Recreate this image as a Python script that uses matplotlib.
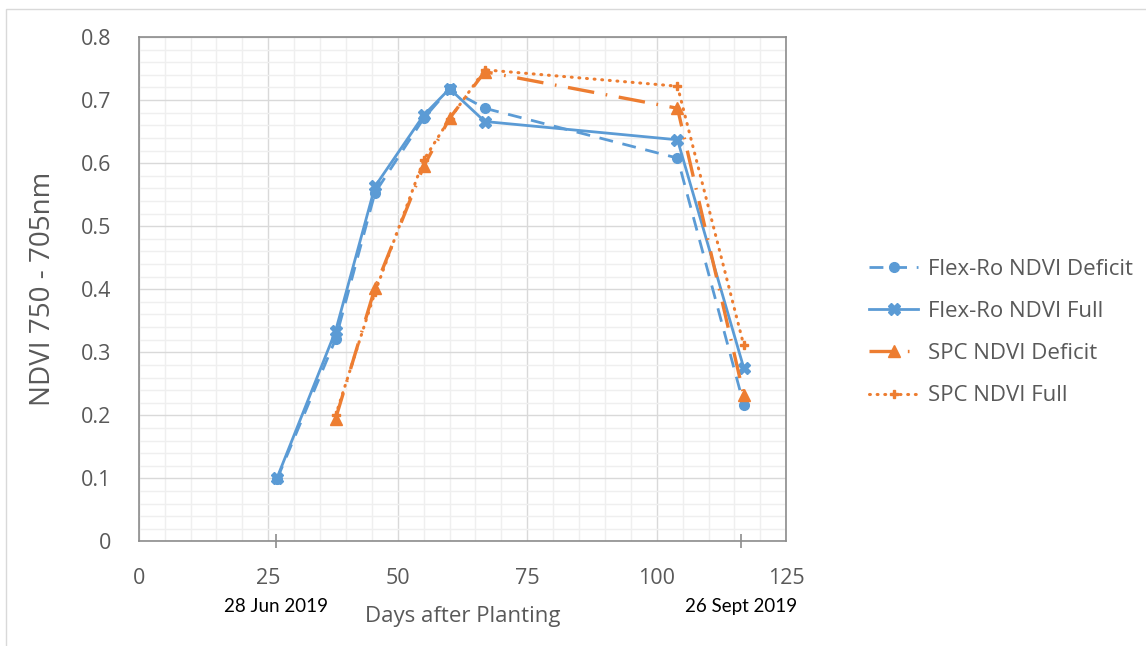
import matplotlib.pyplot as plt
from matplotlib.patches import Rectangle
from matplotlib.ticker import MultipleLocator

# days after planting for each sampling date
days = [26.7, 38, 45.6, 55, 60, 66.8, 104, 116.8]
spc_days = [38, 45.6, 55, 60, 66.8, 104, 116.8]

flex_deficit = [0.099, 0.321, 0.553, 0.671, 0.718, 0.687, 0.608, 0.217]
flex_full = [0.101, 0.334, 0.563, 0.676, 0.718, 0.666, 0.637, 0.275]
spc_deficit = [0.195, 0.402, 0.595, 0.671, 0.745, 0.687, 0.232]
spc_full = [0.200, 0.395, 0.605, 0.670, 0.748, 0.722, 0.311]

date_ticks = [26.5, 116.2]
date_labels = ['28 Jun 2019', '26 Sept 2019']

blue = '#5B9BD5'
orange = '#ED7D31'
grey_text = '#595959'

plt.rcParams['font.family'] = ['Open Sans', 'DejaVu Sans']

fig = plt.figure(figsize=(11.46, 6.46), dpi=100)
fig.patches.append(Rectangle((6 / 1146, -0.05), 1.1, 1 - 9 / 646 + 0.05,
                             transform=fig.transFigure, fill=False,
                             edgecolor='#d9d9d9', lw=1.0))

ax = fig.add_axes([0.1211, 0.1618, 0.565, 0.7809])

ax.plot(days, flex_deficit, color=blue, lw=2.0, ls=(0, (5, 3.5)),
        marker='o', ms=7, label='Flex-Ro NDVI Deficit')
ax.plot(days, flex_full, color=blue, lw=2.0, ls='-',
        marker='X', ms=8, label='Flex-Ro NDVI Full')
ax.plot(spc_days, spc_deficit, color=orange, lw=2.4, ls=(0, (8, 3.5, 0.5, 3.5)),
        marker='^', ms=9, label='SPC NDVI Deficit')
ax.plot(spc_days, spc_full, color=orange, lw=2.2, ls=(0, (0.3, 2.2)),
        dash_capstyle='round', marker='P', ms=6, label='SPC NDVI Full')

ax.set_xlim(0, 125)
ax.set_ylim(0, 0.8)
ax.xaxis.set_major_locator(MultipleLocator(25))
ax.xaxis.set_minor_locator(MultipleLocator(5))
ax.yaxis.set_minor_locator(MultipleLocator(0.02))
ax.set_yticks([i / 10 for i in range(9)])
ax.set_yticklabels(['0'] + [f'{i / 10:.1f}' for i in range(1, 9)])

ax.grid(which='major', color='#d9d9d9', lw=1.0)
ax.grid(which='minor', color='#efefef', lw=1.0)
ax.set_axisbelow(True)
for s in ax.spines.values():
    s.set_color('#8c8c8c')
    s.set_linewidth(1.2)

ax.tick_params(which='both', length=0, labelsize=15.5, labelcolor=grey_text)
ax.tick_params(axis='x', pad=19)
ax.tick_params(axis='y', pad=20)

# small ticks marking the first and last survey dates
sec = ax.secondary_xaxis('bottom')
sec.set_xticks(date_ticks)
sec.set_xticklabels(date_labels, fontsize=13.5, family=['Lato', 'DejaVu Sans'],
                    color='black')
sec.tick_params(length=10, width=1.2, color='#8c8c8c', direction='inout', pad=36)
sec.spines['bottom'].set_visible(False)

ax.set_xlabel('Days after Planting', fontsize=16, color=grey_text, labelpad=12)
ax.set_ylabel('NDVI 750 - 705nm', fontsize=20, color=grey_text, labelpad=17)

leg = ax.legend(loc='center left', bbox_to_anchor=(1.097, 0.414), frameon=False,
                fontsize=16, handlelength=2.2, handletextpad=0.45,
                labelspacing=0.95, labelcolor=grey_text)

fig.savefig('out.png', dpi=100)
